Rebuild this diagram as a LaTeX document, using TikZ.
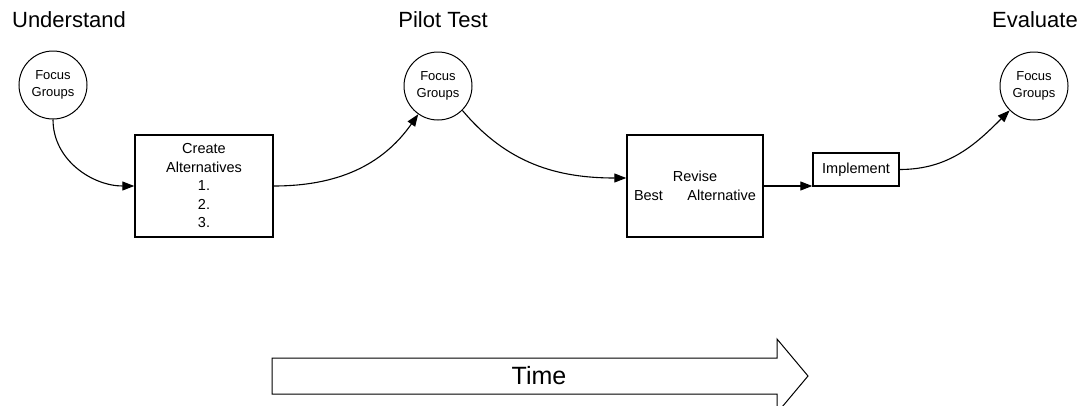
\documentclass[tikz,border=0pt]{standalone}
\usepackage{fontspec}
\setmainfont{Liberation Sans}
\usetikzlibrary{arrows.meta}

\begin{document}
\begin{tikzpicture}[x=1pt,y=1pt,
    focus/.style={draw, circle, line width=1pt, minimum size=68pt, inner sep=0pt,
      align=center, font=\fontsize{13}{17}\selectfont},
    stepbox/.style={draw, line width=1.4pt, inner sep=0pt, align=center,
      font=\fontsize{14.5}{18.5}\selectfont},
    phase/.style={font=\fontsize{22}{26}\selectfont},
    flow/.style={line width=1.1pt, -{Triangle[length=12pt,width=9pt]}}]
        \useasboundingbox (0,0) rectangle (1084,-405);

        % phases
        \node[phase] (understand) at (69,-20) {Understand};
        \node[phase] (pilot) at (443,-20) {Pilot Test};
        \node[phase] (evaluate) at (1035,-20) {Evaluate};

        \node[focus] (fg1) at (53,-85) {Focus\\Groups};
        \node[focus] (fg2) at (438,-86) {Focus\\Groups};
        \node[focus] (fg3) at (1034,-86) {Focus\\Groups};

        \node[stepbox, minimum width=138pt, minimum height=102pt] (create) at (204,-186)
            {Create\\Alternatives\\1.\\2.\\3.};
        \node[stepbox, minimum width=136pt, minimum height=102pt, text width=122pt] (revise) at (695,-186)
            {Revise\\Best\hfill Alternative};
        \node[stepbox, minimum width=86pt, minimum height=33pt] (implement) at (856,-169.5) {Implement};

        \draw[flow] (fg1.south) to[out=-90,in=180] (create.west);
        \draw[flow] (create.east) to[out=0,in=235] (fg2.235);
        \draw[flow] (fg2.-45) to[out=-50,in=180] ([yshift=8pt]revise.west);
        \draw[flow] (revise.east) -- (revise.east -| implement.west);
        \draw[flow] (implement.east) to[out=0,in=225] (fg3.225);

        % time arrow
        \draw[line width=1pt, fill=white] (272,-358) -- (777,-358) -- (777,-339) -- (808,-376)
            -- (777,-413) -- (777,-394) -- (272,-394) -- cycle;
        \node[font=\fontsize{25}{30}\selectfont] (time) at (539,-376) {Time};
    \end{tikzpicture}
\end{document}
